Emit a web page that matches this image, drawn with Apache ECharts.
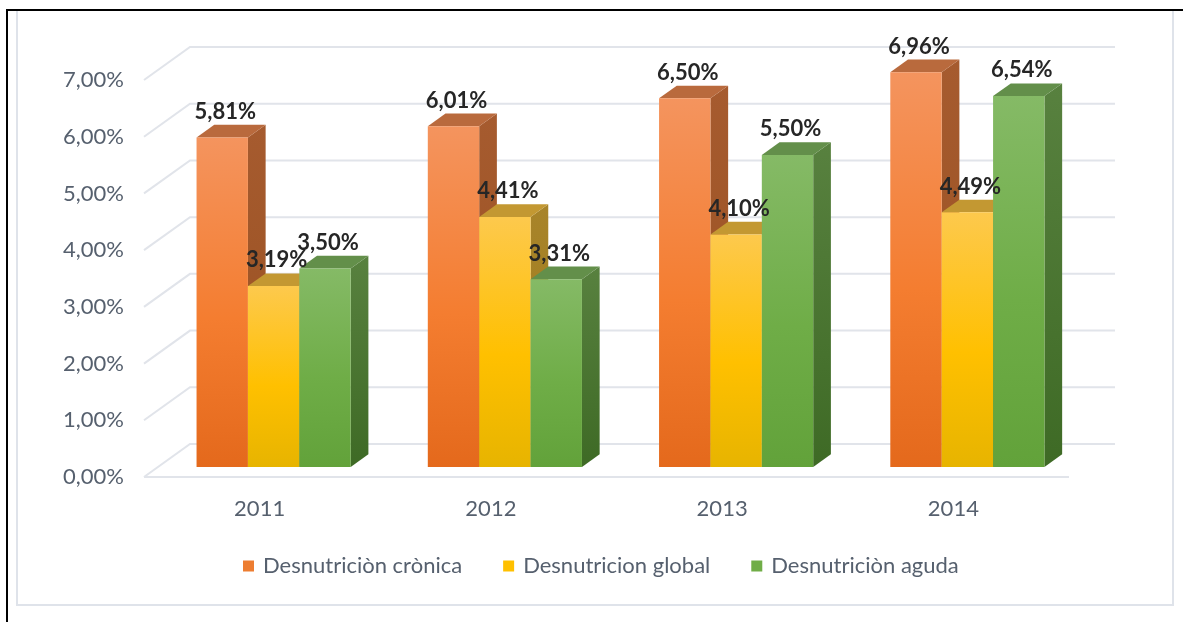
<!DOCTYPE html>
<html>
<head>
<meta charset="utf-8">
<script src="https://cdn.jsdelivr.net/npm/echarts@6/dist/echarts.min.js"></script>
<style>
  html, body { margin: 0; padding: 0; background: #fff; }
  #chart { width: 1183px; height: 622px; }
</style>
</head>
<body>
<div id="chart"></div>
<script>
// datos
var years = ["2011", "2012", "2013", "2014"];
var cronica = [5.81, 6.01, 6.5, 6.96];
var global = [3.19, 4.41, 4.1, 4.49];
var aguda = [3.5, 3.31, 5.5, 6.54];
var yTicks = [0, 1, 2, 3, 4, 5, 6, 7];

var chart = echarts.init(document.getElementById("chart"));

var FONT = "Lato";
// profundidad de la pared y de las barras (px)
var WALL = [46, -33];
var PLANE = [14, -10];
var DEPTH = [17.7, -12.7];

var palettes = [
  { front: ["#f4945e", "#f47d30", "#e4691c"], top: "#b96a3d", side: ["#a65b2f", "#98501f"], legend: "#ed7d31" },
  { front: ["#fdc94d", "#ffc000", "#e7b400"], top: "#c39832", side: ["#a8842a", "#9e7a18"], legend: "#ffc000" },
  { front: ["#85ba66", "#6fad47", "#62a23a"], top: "#638f4a", side: ["#58813f", "#3e6a25"], legend: "#70ad47" }
];

function fmt(v) {
  return v.toFixed(2).replace(".", ",") + "%";
}

function grad(c) {
  return new echarts.graphic.LinearGradient(0, 0, 0, 1, [
    { offset: 0, color: c[0] },
    { offset: 0.55, color: c[1] },
    { offset: 1, color: c[c.length - 1] }
  ]);
}

function barSeries(name, values, idx) {
  var pal = palettes[idx];
  return {
    name: name,
    type: "custom",
    z: 3,
    itemStyle: { color: pal.legend },
    data: values.map(function (v, i) { return [i, v]; }),
    renderItem: function (params, api) {
      var ci = api.value(0);
      var v = api.value(1);
      var base = api.coord([ci, 0]);
      var topP = api.coord([ci, v]);
      var bw = api.size([1, 0])[0] * 0.2222;
      var xl = base[0] + PLANE[0] + (idx - 1.5) * bw;
      var xr = xl + bw;
      var yb = base[1] + PLANE[1];
      var yt = topP[1] + PLANE[1];
      var dx = DEPTH[0], dy = DEPTH[1];
      return {
        type: "group",
        children: [
          {
            type: "polygon",
            shape: { points: [[xr, yt], [xr + dx, yt + dy], [xr + dx, yb + dy], [xr, yb]] },
            style: { fill: new echarts.graphic.LinearGradient(0, 0, 0, 1, [
              { offset: 0, color: pal.side[0] }, { offset: 1, color: pal.side[1] }]) }
          },
          {
            type: "polygon",
            shape: { points: [[xl, yt], [xr, yt], [xr + dx, yt + dy], [xl + dx, yt + dy]] },
            style: { fill: pal.top }
          },
          {
            type: "rect",
            shape: { x: xl, y: yt, width: bw, height: yb - yt },
            style: { fill: grad(pal.front) }
          },
          {
            type: "text",
            z2: 100,
            x: (xl + xr) / 2 + 3,
            y: yt + dy - 2,
            style: {
              text: fmt(v),
              fill: "#262626",
              font: "bold 22px " + FONT,
              align: "center",
              verticalAlign: "bottom"
            }
          }
        ]
      };
    }
  };
}

// paredes / lineas de cuadricula
var wallSeries = {
  type: "custom",
  z: 1,
  silent: true,
  data: yTicks.map(function (t) { return [0, t]; }),
  renderItem: function (params, api) {
    var cs = params.coordSys;
    var y = api.coord([0, api.value(1)])[1];
    var x0 = cs.x;
    var x1 = cs.x + cs.width;
    var st = { stroke: "#e1e4ea", lineWidth: 2, fill: null };
    var kids = [
      { type: "polyline", shape: { points: [[x0, y], [x0 + WALL[0], y + WALL[1]], [x1 + WALL[0], y + WALL[1]]] }, style: st }
    ];
    if (api.value(1) === 0) {
      kids.push({ type: "line", shape: { x1: x0, y1: y, x2: x1, y2: y }, style: st });
    }
    return { type: "group", children: kids };
  }
};

var option = {
  backgroundColor: "#fff",
  animation: false,
  textStyle: { fontFamily: FONT },
  graphic: [
    {
      type: "rect",
      shape: { x: 17, y: 10, width: 1156, height: 595 },
      style: { fill: null, stroke: "#dfe3ea", lineWidth: 2 }
    },
    {
      type: "rect",
      shape: { x: 7, y: 10, width: 1200, height: 700 },
      style: { fill: null, stroke: "#000", lineWidth: 2 }
    }
  ],
  grid: { left: 144, right: 114, top: 80, bottom: 145 },
  legend: {
    left: 243,
    top: 555,
    padding: 0,
    icon: "rect",
    itemWidth: 11,
    itemHeight: 11,
    itemGap: 41,
    textStyle: { fontFamily: FONT, fontSize: 22, color: "#56606e", padding: [0, 0, 0, 4] },
    data: ["Desnutriciòn crònica", "Desnutricion global", "Desnutriciòn aguda"]
  },
  xAxis: {
    type: "category",
    data: years,
    axisLine: { show: false },
    axisTick: { show: false },
    axisLabel: { fontFamily: FONT, fontSize: 22, color: "#56606e", margin: 21 }
  },
  yAxis: {
    type: "value",
    min: 0,
    max: 7,
    interval: 1,
    splitLine: { show: false },
    axisLine: { show: false },
    axisTick: { show: false },
    axisLabel: {
      fontFamily: FONT, fontSize: 22, color: "#56606e", margin: 20,
      formatter: function (v) { return fmt(v); }
    }
  },
  series: [
    wallSeries,
    barSeries("Desnutriciòn crònica", cronica, 0),
    barSeries("Desnutricion global", global, 1),
    barSeries("Desnutriciòn aguda", aguda, 2)
  ]
};

chart.setOption(option);
</script>
</body>
</html>
